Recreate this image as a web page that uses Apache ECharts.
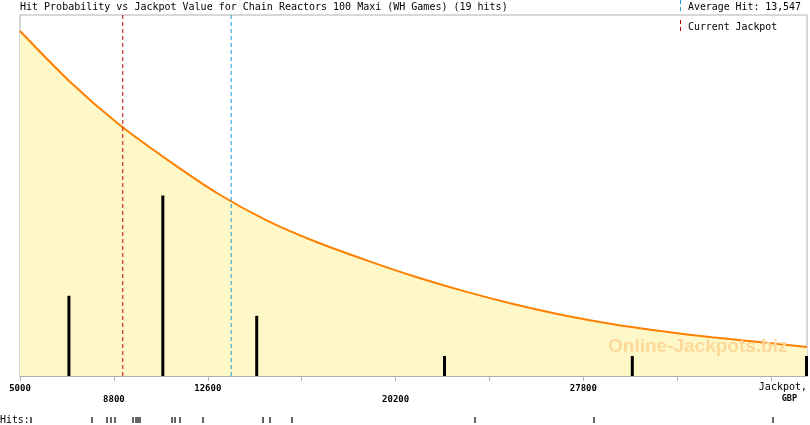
<!DOCTYPE html>
<html>
<head>
<meta charset="utf-8">
<script src="https://cdn.jsdelivr.net/npm/echarts@6/dist/echarts.min.js"></script>
<style>
html,body{margin:0;padding:0;background:#fff;}
#chart{width:810px;height:425px;}
</style>
</head>
<body>
<div id="chart"></div>
<script>
const chartTitle = 'Hit Probability vs Jackpot Value for Chain Reactors 100 Maxi (WH Games) (19 hits)';
// probability curve (relative units)
const curveJackpot = [5000, 7000, 9000, 11000, 13000, 15000, 17000, 19000, 21000, 23000, 25000, 27000, 29000, 31000, 33000, 35000, 36850];
const curveProbability = [17.2, 14.7, 12.55, 10.75, 9.1, 7.75, 6.68, 5.78, 4.95, 4.22, 3.58, 3.03, 2.58, 2.23, 1.93, 1.68, 1.45];
// histogram of hits
const binCenters = [6980, 10780, 14580, 22180, 29780, 36830];
const binCounts = [4, 9, 3, 1, 1, 1];
// individual hits
const hitValues = [5445, 7910, 8517, 8678, 8840, 9568, 9689, 9770, 9851, 11144, 11265, 11467, 12397, 14822, 15105, 15994, 23391, 28201, 35436];
const averageHit = 13547;
const currentJackpot = 9160;
// axis
const axisMin = 5000;
const axisMax = 36850;
const yMax = 18;
const tickValues = [5000, 8800, 12600, 16400, 20200, 24000, 27800, 31600, 35400];
const labelValues = [5000, 8800, 12600, 20200, 27800];
const lowRowLabels = [8800, 20200];

const mono = 'DejaVu Sans Mono';
const chart = echarts.init(document.getElementById('chart'), null, {renderer: 'canvas'});

const fmt = v => String(v).replace(/\B(?=(\d{3})+(?!\d))/g, ',');

function vLine(value, color) {
  return {
    type: 'line', xAxisIndex: 0, yAxisIndex: 0,
    data: [[value, 0], [value, yMax]],
    symbol: 'none', silent: true,
    lineStyle: {color: color, type: [4, 3], width: 1},
    emphasis: {disabled: true},
    z: 4
  };
}

const option = {
  animation: false,
  backgroundColor: '#ffffff',
  title: {
    text: chartTitle,
    left: 20, top: 2, padding: 0,
    textStyle: {fontFamily: mono, fontSize: 10, fontWeight: 'normal', color: '#000'}
  },
  grid: [
    {left: 20, right: 2, top: 15, bottom: 49, show: true, borderColor: '#b0b0b0', borderWidth: 1, backgroundColor: 'transparent'},
    {left: 20, right: 2, top: 417, height: 6, show: false}
  ],
  xAxis: [
    {
      type: 'value', gridIndex: 0, min: axisMin, max: axisMax,
      splitLine: {show: false},
      axisLine: {show: true, lineStyle: {color: '#b0b0b0', width: 1}},
      axisTick: {show: true, length: 5, lineStyle: {color: '#b0b0b0'}, customValues: tickValues},
      axisLabel: {
        show: true, customValues: labelValues, margin: 7,
        fontFamily: mono, fontSize: 9, fontWeight: 'bold', color: '#000', lineHeight: 11,
        formatter: v => lowRowLabels.indexOf(v) >= 0 ? '\n' + v : String(v)
      },
      name: '{a|Jackpot,}\n{b|GBP}',
      nameLocation: 'end', nameGap: 0,
      nameTextStyle: {
        align: 'right', verticalAlign: 'top', padding: [5, 0, 0, 0],
        rich: {
          a: {fontFamily: mono, fontSize: 10, color: '#000', lineHeight: 12},
          b: {fontFamily: mono, fontSize: 8.5, fontWeight: 'bold', color: '#000', lineHeight: 11, padding: [0, 10, 0, 0]}
        }
      }
    },
    {
      type: 'value', gridIndex: 1, min: axisMin, max: axisMax, show: false
    }
  ],
  yAxis: [
    {type: 'value', gridIndex: 0, min: 0, max: yMax, show: false},
    {type: 'value', gridIndex: 1, min: 0, max: 1, show: false}
  ],
  series: [
    {
      type: 'line', xAxisIndex: 0, yAxisIndex: 0,
      data: curveJackpot.map((x, i) => [x, curveProbability[i]]),
      smooth: 0.3, symbol: 'none',
      lineStyle: {color: '#ff8000', width: 2},
      areaStyle: {color: '#fef7c7', opacity: 1},
      z: 2
    },
    {
      type: 'bar', xAxisIndex: 0, yAxisIndex: 0,
      data: binCenters.map((x, i) => [x, binCounts[i]]),
      barWidth: 3,
      itemStyle: {color: '#000'},
      z: 3
    },
    vLine(currentJackpot, '#c80000'),
    vLine(averageHit, '#1e9ad8'),
    {
      type: 'scatter', xAxisIndex: 1, yAxisIndex: 1,
      data: hitValues.map(v => [v, 0.5]),
      symbol: 'rect', symbolSize: [1.2, 6],
      itemStyle: {color: '#000', opacity: 1}
    }
  ],
  graphic: [
    {type: 'text', left: 608, top: 337, z: 10, silent: true,
     style: {text: 'Online-Jackpots.biz', fill: '#fdd89b', font: 'bold 19px "Liberation Sans", Arial, sans-serif'}},
    {type: 'line', z: 10, shape: {x1: 680.5, y1: 0, x2: 680.5, y2: 12},
     style: {stroke: '#1e9ad8', lineWidth: 1, lineDash: [4, 3]}},
    {type: 'text', x: 688, y: 7, z: 10,
     style: {text: 'Average Hit: ' + fmt(averageHit), fill: '#000', font: '9.9px "DejaVu Sans Mono"', verticalAlign: 'middle'}},
    {type: 'line', z: 10, shape: {x1: 680.5, y1: 20, x2: 680.5, y2: 33},
     style: {stroke: '#c80000', lineWidth: 1, lineDash: [4, 3]}},
    {type: 'text', x: 688, y: 27, z: 10,
     style: {text: 'Current Jackpot', fill: '#000', font: '9.9px "DejaVu Sans Mono"', verticalAlign: 'middle'}},
    {type: 'text', x: 0, y: 420, z: 10,
     style: {text: 'Hits:', fill: '#000', font: '9.9px "DejaVu Sans Mono"', verticalAlign: 'middle'}}
  ]
};
chart.setOption(option);
</script>
</body>
</html>
